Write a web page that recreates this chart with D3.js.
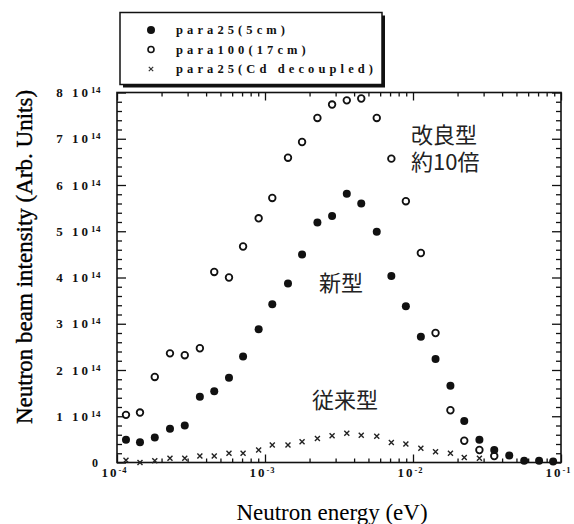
<!DOCTYPE html>
<html>
<head>
<meta charset="utf-8">
<script src="https://cdn.jsdelivr.net/npm/d3@7"></script>
<style>
  body { margin: 0; background: #fff; }
  svg { display: block; }
  .tick text { font-family: "Liberation Serif", "DejaVu Serif", serif; font-weight: bold; fill: #111; }
</style>
</head>
<body>
<div id="chart"></div>
<script>
// neutron energy (eV), shared by all three series
var energy = [1.15e-4, 1.43e-4, 1.80e-4, 2.28e-4, 2.87e-4, 3.63e-4, 4.54e-4, 5.71e-4, 7.11e-4, 9.06e-4,
              1.12e-3, 1.43e-3, 1.78e-3, 2.26e-3, 2.84e-3, 3.57e-3, 4.47e-3, 5.69e-3, 7.14e-3, 8.95e-3,
              1.13e-2, 1.42e-2, 1.79e-2, 2.22e-2, 2.81e-2, 3.54e-2, 4.47e-2, 5.64e-2, 7.11e-2, 8.85e-2];

// intensities in units of 10^14
var para25 = [0.49, 0.44, 0.54, 0.73, 0.80, 1.42, 1.54, 1.83, 2.29, 2.88,
              3.42, 3.87, 4.50, 5.19, 5.33, 5.81, 5.60, 4.99, 4.03, 3.38,
              2.72, 2.24, 1.66, 0.90, 0.49, 0.27, 0.15, 0.04, 0.04, 0.02];
var para100 = [1.03, 1.08, 1.85, 2.36, 2.32, 2.47, 4.12, 4.00, 4.67, 5.28,
               5.72, 6.59, 6.93, 7.45, 7.74, 7.83, 7.87, 7.45, 6.57, 5.65,
               4.53, 2.80, 1.13, 0.47, 0.27, 0.14];
var para25cd = [0.05, 0.00, 0.04, 0.09, 0.09, 0.14, 0.14, 0.20, 0.20, 0.27,
                0.38, 0.38, 0.45, 0.52, 0.58, 0.63, 0.59, 0.57, 0.43, 0.40,
                0.31, 0.23, 0.20, 0.11, 0.09];

var legendNames = ["para25(5cm)", "para100(17cm)", "para25(Cd decoupled)"];
var yTicks = [0, 1, 2, 3, 4, 5, 6, 7, 8];
var xTicks = [1e-4, 1e-3, 1e-2, 1e-1];
var xTickExp = ["-4", "-3", "-2", "-1"];

var width = 574, height = 524;
var mLeft = 117, mRight = 561, mTop = 92.5, mBottom = 462.5;

var svg = d3.select("#chart").append("svg")
    .attr("width", width)
    .attr("height", height);

var x = d3.scaleLog().domain([1e-4, 1e-1]).range([mLeft, mRight]);
var y = d3.scaleLinear().domain([0, 8]).range([mBottom, mTop]);

var ink = "#111";

// minor ticks
var xMinor = [];
[1e-4, 1e-3, 1e-2].forEach(function(d) {
  for (var k = 2; k <= 9; k++) xMinor.push(d * k);
});
var yMinor = d3.range(0, 8.01, 0.2).filter(function(v) { return Math.abs(v - Math.round(v)) > 0.01; });

function styleAxis(g) {
  g.select(".domain").remove();
  g.selectAll(".tick line").attr("stroke", ink).attr("stroke-width", 1.3);
}

// bottom
svg.append("g").attr("transform", "translate(0," + mBottom + ")")
  .call(d3.axisBottom(x).tickValues(xMinor).tickSize(-4).tickFormat(""))
  .call(styleAxis);
var gx = svg.append("g").attr("transform", "translate(0," + mBottom + ")")
  .call(d3.axisBottom(x).tickValues(xTicks).tickSize(-8).tickPadding(5))
  .call(styleAxis);
gx.selectAll(".tick text").each(function(d, i) {
  var t = d3.select(this).text(null)
    .attr("font-size", 13).attr("letter-spacing", 2).attr("dx", -3);
  t.append("tspan").text("10");
  t.append("tspan").attr("font-size", 8.5).attr("dy", -4).attr("letter-spacing", 1).text(xTickExp[i]);
});

// top
svg.append("g").attr("transform", "translate(0," + mTop + ")")
  .call(d3.axisTop(x).tickValues(xMinor).tickSize(-4).tickFormat(""))
  .call(styleAxis);
svg.append("g").attr("transform", "translate(0," + mTop + ")")
  .call(d3.axisTop(x).tickValues(xTicks).tickSize(-8).tickFormat(""))
  .call(styleAxis);

// left
svg.append("g").attr("transform", "translate(" + mLeft + ",0)")
  .call(d3.axisLeft(y).tickValues(yMinor).tickSize(-5).tickFormat(""))
  .call(styleAxis);
var gy = svg.append("g").attr("transform", "translate(" + mLeft + ",0)")
  .call(d3.axisLeft(y).tickValues(yTicks).tickSize(-9).tickPadding(16))
  .call(styleAxis);
gy.selectAll(".tick text").each(function(d) {
  var t = d3.select(this).text(null).attr("font-size", 13).attr("letter-spacing", 3);
  if (d === 0) { t.text("0"); t.attr("font-weight", "normal").attr("font-family", "DejaVu Sans").attr("font-size", 12); return; }
  t.append("tspan").text(d + " 10");
  t.append("tspan").attr("font-size", 9).attr("dy", -4).attr("letter-spacing", 0.5).text("14");
});

// right
svg.append("g").attr("transform", "translate(" + mRight + ",0)")
  .call(d3.axisRight(y).tickValues(yMinor).tickSize(-5).tickFormat(""))
  .call(styleAxis);
svg.append("g").attr("transform", "translate(" + mRight + ",0)")
  .call(d3.axisRight(y).tickValues(yTicks).tickSize(-9).tickFormat(""))
  .call(styleAxis);

// frame
svg.append("rect")
  .attr("x", mLeft).attr("y", mTop)
  .attr("width", mRight - mLeft).attr("height", mBottom - mTop)
  .attr("fill", "none").attr("stroke", ink).attr("stroke-width", 1.6);

// markers
function crossPath(r) {
  return "M" + (-r) + "," + (-r) + "L" + r + "," + r + "M" + (-r) + "," + r + "L" + r + "," + (-r);
}

svg.append("g").selectAll("path")
  .data(para25cd)
  .enter().append("path")
  .attr("transform", function(d, i) { return "translate(" + x(energy[i]) + "," + y(d) + ")"; })
  .attr("d", crossPath(2.5))
  .attr("stroke", "#222").attr("stroke-width", 1.4).attr("fill", "none");

svg.append("g").selectAll("circle")
  .data(para100)
  .enter().append("circle")
  .attr("cx", function(d, i) { return x(energy[i]); })
  .attr("cy", function(d) { return y(d); })
  .attr("r", 3.3)
  .attr("fill", "#fff").attr("stroke", ink).attr("stroke-width", 1.8);

svg.append("g").selectAll("circle")
  .data(para25)
  .enter().append("circle")
  .attr("cx", function(d, i) { return x(energy[i]); })
  .attr("cy", function(d) { return y(d); })
  .attr("r", 4)
  .attr("fill", ink);

// axis titles
svg.append("text")
  .attr("x", (mLeft + mRight) / 2 - 7).attr("y", 520)
  .attr("text-anchor", "middle")
  .attr("font-family", "Liberation Serif, serif").attr("font-size", 23)
  .attr("fill", "#000")
  .text("Neutron energy (eV)");

svg.append("text")
  .attr("transform", "translate(32," + 257 + ") rotate(-90)")
  .attr("text-anchor", "middle")
  .attr("font-family", "Liberation Serif, serif").attr("font-size", 23)
  .attr("fill", "#000").attr("stroke", "#000").attr("stroke-width", 0.4)
  .text("Neutron beam intensity (Arb. Units)");

// annotations
var jp = "Noto Sans CJK JP";
function note(lines, px, py) {
  var t = svg.append("text").attr("x", px).attr("y", py)
    .attr("font-family", jp).attr("font-size", 22).attr("fill", "#222");
  lines.forEach(function(s, i) {
    t.append("tspan").attr("x", px).attr("dy", i ? 27 : 0).text(s);
  });
}
note(["改良型", "約10倍"], 411, 143);
note(["新型"], 319, 291);
note(["従来型"], 312, 408);

// legend
var lg = svg.append("g");
lg.append("rect").attr("x", 123).attr("y", 15.5).attr("width", 262).attr("height", 72).attr("fill", ink);
lg.append("rect").attr("x", 120).attr("y", 12.5).attr("width", 262).attr("height", 72)
  .attr("fill", "#fff").attr("stroke", ink).attr("stroke-width", 1.5);

var rowY = [30, 49.5, 69];
lg.append("circle").attr("cx", 151).attr("cy", rowY[0]).attr("r", 4).attr("fill", ink);
lg.append("circle").attr("cx", 151).attr("cy", rowY[1]).attr("r", 3)
  .attr("fill", "none").attr("stroke", ink).attr("stroke-width", 1.6);
lg.append("path").attr("transform", "translate(151," + rowY[2] + ")")
  .attr("d", crossPath(2.2)).attr("stroke", "#333").attr("stroke-width", 1.2);

lg.selectAll("text.lab")
  .data(legendNames)
  .enter().append("text")
  .attr("class", "lab")
  .attr("x", 176)
  .attr("y", function(d, i) { return rowY[i] + 4; })
  .attr("font-family", "Liberation Serif, serif").attr("font-weight", "bold")
  .attr("font-size", 12.5).attr("letter-spacing", 4.1)
  .attr("fill", ink)
  .text(function(d) { return d; });
</script>
</body>
</html>
